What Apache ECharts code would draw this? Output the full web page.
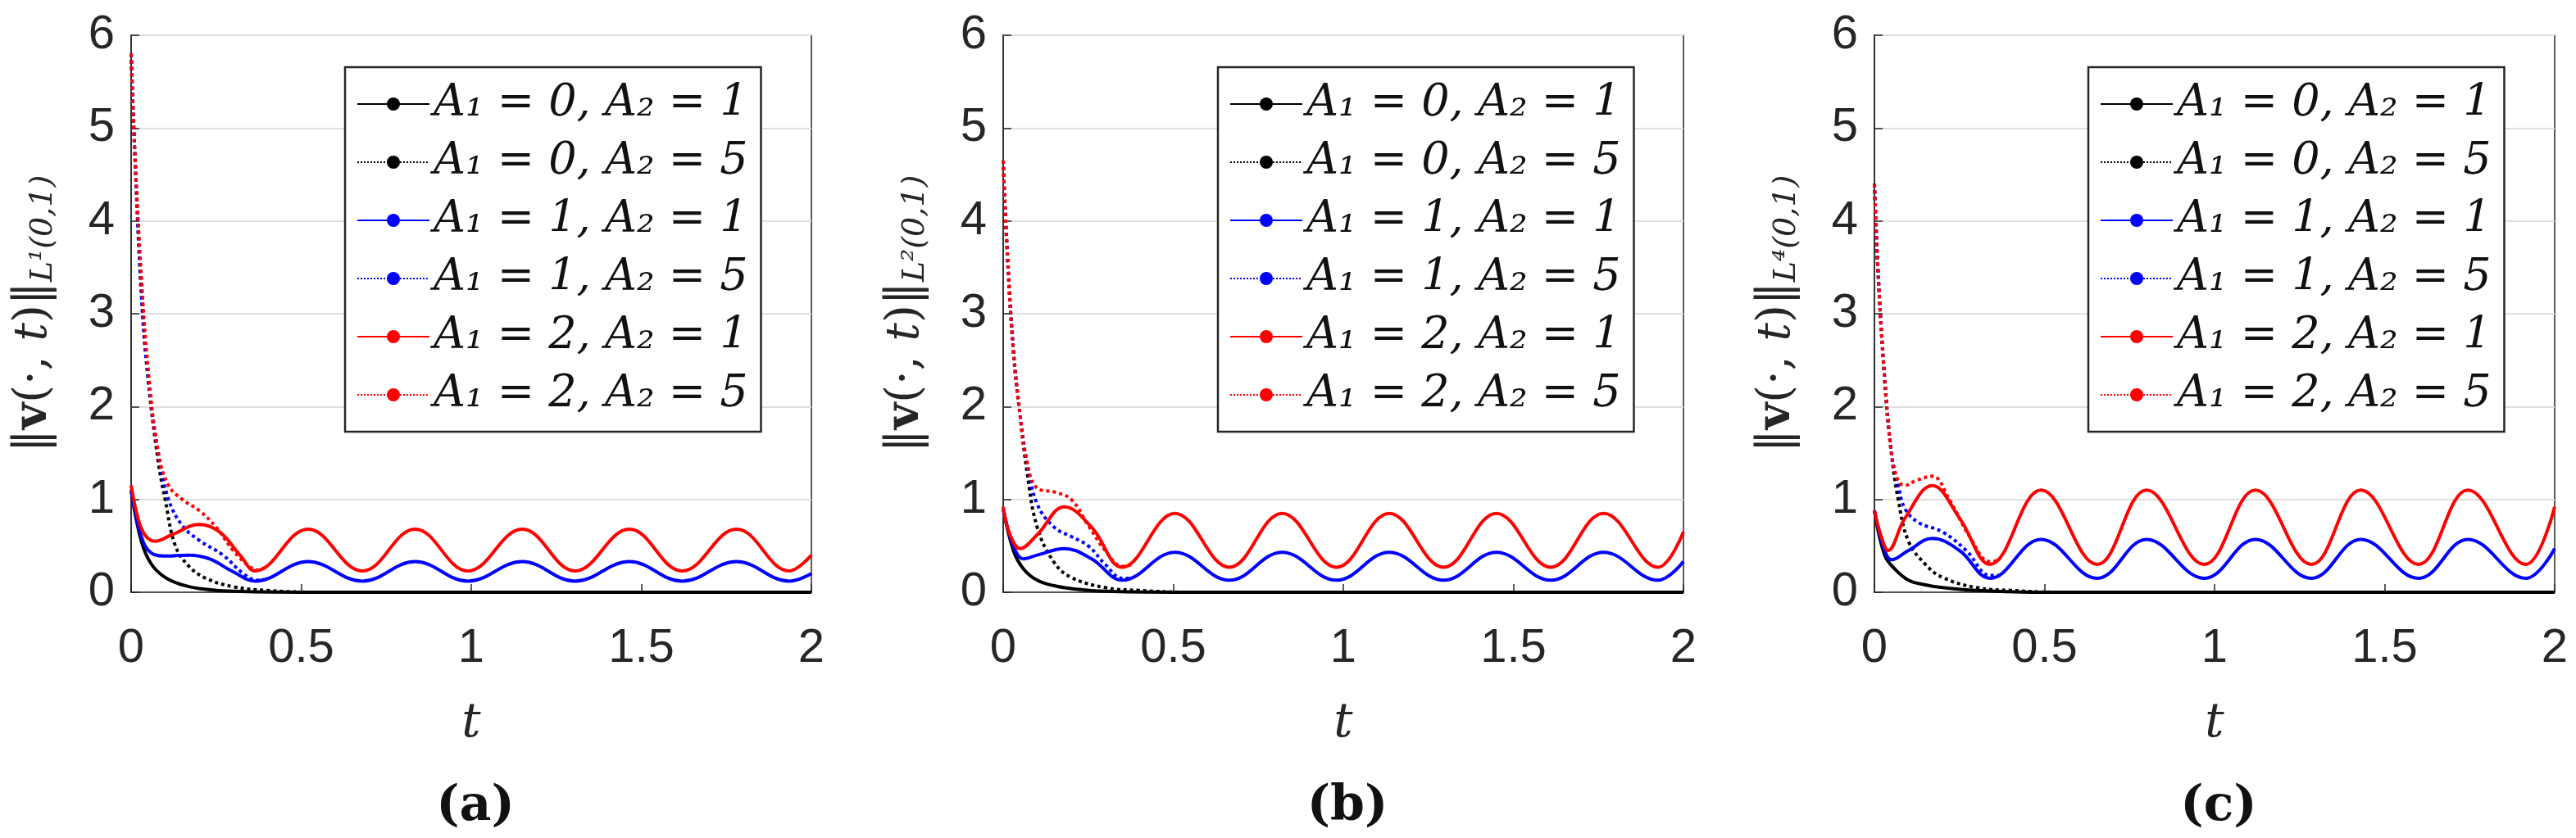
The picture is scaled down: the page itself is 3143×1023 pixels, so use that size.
<!DOCTYPE html>
<html>
<head>
<meta charset="utf-8">
<script src="https://cdn.jsdelivr.net/npm/echarts@6/dist/echarts.min.js"></script>
<style>
  html, body { margin: 0; padding: 0; background: #fff; }
  #main { width: 3143px; height: 1023px; }
</style>
</head>
<body>
<div id="main"></div>
<script>
// legend names
var names = ['A₁ = 0, A₂ = 1', 'A₁ = 0, A₂ = 5', 'A₁ = 1, A₂ = 1', 'A₁ = 1, A₂ = 5', 'A₁ = 2, A₂ = 1', 'A₁ = 2, A₂ = 5'];
var xTicks = [0, 0.5, 1, 1.5, 2];
var yTicks = [0, 1, 2, 3, 4, 5, 6];
var captions = ['(a)', '(b)', '(c)'];
var normSup = ['L¹(0,1)', 'L²(0,1)', 'L⁴(0,1)'];

// panel (a)  L1
var a_k1 = [[0,1.1],[0.03,0.55],[0.06,0.3],[0.1,0.16],[0.15,0.08],[0.2,0.04],[0.3,0.01],[0.5,0],[2,0]];
var a_k5 = [[0,5.8],[0.01,4.8],[0.03,3.3],[0.05,2.3],[0.08,1.4],[0.1,1.0],[0.13,0.5],[0.17,0.28],[0.22,0.15],[0.3,0.06],[0.4,0.02],[0.55,0],[2,0]];
var a_b1 = [[0,1.1],[0.03,0.6],[0.06,0.42],[0.1,0.39],[0.17,0.4],[0.23,0.36],[0.3,0.22],[0.365,0.12],[0.52,0.33],[0.68,0.12],[0.835,0.33],[0.99,0.12],[1.15,0.33],[1.305,0.12],[1.465,0.33],[1.62,0.12],[1.78,0.33],[1.935,0.12],[2,0.2]];
var a_b5 = [[0,5.8],[0.01,4.8],[0.03,3.2],[0.05,2.3],[0.08,1.5],[0.11,1.0],[0.15,0.72],[0.2,0.56],[0.27,0.4],[0.33,0.2],[0.37,0.13],[0.4,0.14]];
var a_r1 = [[0,1.15],[0.02,0.8],[0.04,0.62],[0.07,0.55],[0.12,0.62],[0.2,0.73],[0.26,0.65],[0.32,0.4],[0.365,0.23],[0.52,0.68],[0.68,0.23],[0.835,0.68],[0.99,0.23],[1.15,0.68],[1.305,0.23],[1.465,0.68],[1.62,0.23],[1.78,0.68],[1.935,0.23],[2,0.4]];
var a_r5 = [[0,5.8],[0.01,4.8],[0.03,3.4],[0.05,2.4],[0.08,1.5],[0.11,1.15],[0.15,1.0],[0.2,0.88],[0.25,0.7],[0.3,0.45],[0.35,0.27],[0.37,0.24],[0.4,0.28]];

// panel (b)  L2
var b_k1 = [[0,0.9],[0.03,0.45],[0.06,0.25],[0.1,0.13],[0.15,0.07],[0.2,0.04],[0.3,0.01],[0.5,0],[2,0]];
var b_k5 = [[0,4.65],[0.01,3.8],[0.03,2.6],[0.05,1.9],[0.07,1.3],[0.1,0.7],[0.15,0.32],[0.2,0.16],[0.3,0.05],[0.4,0.02],[0.55,0],[2,0]];
var b_b1 = [[0,0.9],[0.03,0.5],[0.06,0.36],[0.1,0.4],[0.18,0.47],[0.26,0.36],[0.35,0.13],[0.505,0.43],[0.665,0.13],[0.82,0.43],[0.98,0.13],[1.135,0.43],[1.295,0.13],[1.45,0.43],[1.61,0.13],[1.765,0.43],[1.925,0.13],[2,0.33]];
var b_b5 = [[0,4.65],[0.01,3.8],[0.03,2.6],[0.05,1.9],[0.07,1.4],[0.1,0.95],[0.15,0.7],[0.2,0.6],[0.25,0.5],[0.3,0.3],[0.35,0.15],[0.38,0.15]];
var b_r1 = [[0,0.92],[0.02,0.62],[0.05,0.47],[0.1,0.62],[0.18,0.92],[0.26,0.7],[0.35,0.27],[0.505,0.85],[0.665,0.27],[0.82,0.85],[0.98,0.27],[1.135,0.85],[1.295,0.27],[1.45,0.85],[1.61,0.27],[1.765,0.85],[1.925,0.27],[2,0.65]];
var b_r5 = [[0,4.65],[0.01,3.8],[0.03,2.6],[0.05,1.9],[0.07,1.4],[0.1,1.12],[0.15,1.08],[0.2,1.0],[0.25,0.72],[0.3,0.45],[0.35,0.28],[0.38,0.3]];

// panel (c)  L4
var c_k1 = [[0,0.88],[0.03,0.4],[0.06,0.25],[0.1,0.13],[0.15,0.08],[0.2,0.05],[0.3,0.02],[0.5,0],[2,0]];
var c_k5 = [[0,4.4],[0.01,3.5],[0.03,2.3],[0.05,1.5],[0.07,1.0],[0.1,0.55],[0.15,0.3],[0.2,0.16],[0.3,0.05],[0.4,0.02],[0.55,0],[2,0]];
var c_b1 = [[0,0.88],[0.03,0.45],[0.05,0.35],[0.1,0.45],[0.17,0.58],[0.25,0.45],[0.34,0.15],[0.49,0.57],[0.655,0.15],[0.8,0.57],[0.97,0.15],[1.12,0.57],[1.285,0.15],[1.43,0.57],[1.6,0.15],[1.745,0.57],[1.915,0.15],[2,0.47]];
var c_b5 = [[0,4.4],[0.01,3.5],[0.03,2.3],[0.05,1.5],[0.07,1.15],[0.09,0.9],[0.13,0.75],[0.2,0.65],[0.27,0.45],[0.34,0.18],[0.37,0.18]];
var c_r1 = [[0,0.88],[0.02,0.6],[0.04,0.45],[0.09,0.8],[0.17,1.15],[0.25,0.8],[0.34,0.3],[0.49,1.1],[0.655,0.3],[0.8,1.1],[0.97,0.3],[1.12,1.1],[1.285,0.3],[1.43,1.1],[1.6,0.3],[1.745,1.1],[1.915,0.3],[2,0.92]];
var c_r5 = [[0,4.4],[0.01,3.5],[0.03,2.3],[0.05,1.5],[0.07,1.2],[0.09,1.15],[0.12,1.2],[0.17,1.25],[0.22,1.0],[0.28,0.6],[0.34,0.33],[0.37,0.35]];

var panels = [
    [a_k1, a_k5, a_b1, a_b5, a_r1, a_r5],
    [b_k1, b_k5, b_b1, b_b5, b_r1, b_r5],
    [c_k1, c_k5, c_b1, c_b5, c_r1, c_r5]
];
var colors = ['#000000', '#000000', '#0000ff', '#0000ff', '#ff0000', '#ff0000'];
var types = ['solid', 'dotted', 'solid', 'dotted', 'solid', 'dotted'];

// grid positions (px)
var gridLeft = [160, 1224, 2287];
var gridWidth = 830;
var legendLeft = [421, 1486, 2548];

var myChart = echarts.init(document.getElementById('main'));
var grids = [], xAxes = [], yAxes = [], series = [], legends = [], titles = [];
var axisColor = '#262626';

for (var p = 0; p < 3; p++) {
    grids.push({
        left: gridLeft[p], top: 43, width: gridWidth, height: 680,
        show: true, borderColor: axisColor, borderWidth: 1.5, backgroundColor: '#fff'
    });
    xAxes.push({
        type: 'value', gridIndex: p, min: 0, max: 2, interval: 0.5,
        name: 't', nameLocation: 'middle', nameGap: 132,
        nameTextStyle: { fontFamily: 'DejaVu Serif', fontStyle: 'italic', fontSize: 58, color: axisColor },
        axisLine: { show: true, onZero: false, lineStyle: { color: axisColor, width: 1.5 } },
        axisTick: { show: true, inside: true, length: 10, lineStyle: { color: axisColor, width: 1.5 } },
        axisLabel: { fontFamily: 'Liberation Sans', fontSize: 58, color: axisColor, margin: 40,
            formatter: function (v) { return String(v); } },
        splitLine: { show: false }
    });
    yAxes.push({
        type: 'value', gridIndex: p, min: 0, max: 6, interval: 1,
        name: '{n|‖}{b|v}{n|(·, }{i|t}{n|)‖}{s|' + normSup[p] + '}',
        nameLocation: 'middle', nameGap: 88, nameRotate: 90,
        nameTextStyle: {
            color: axisColor,
            rich: {
                n: { fontFamily: 'DejaVu Serif', fontSize: 56, color: axisColor },
                b: { fontFamily: 'DejaVu Serif', fontWeight: 'bold', fontSize: 56, color: axisColor },
                i: { fontFamily: 'DejaVu Serif', fontStyle: 'italic', fontSize: 56, color: axisColor },
                s: { fontFamily: 'DejaVu Serif', fontStyle: 'italic', fontSize: 38, color: axisColor, padding: [24, 0, 0, 0] }
            }
        },
        axisLine: { show: true, lineStyle: { color: axisColor, width: 1.5 } },
        axisTick: { show: true, inside: true, length: 10, lineStyle: { color: axisColor, width: 1.5 } },
        axisLabel: { fontFamily: 'Liberation Sans', fontSize: 58, color: axisColor, margin: 20 },
        splitLine: { show: true, lineStyle: { color: '#dfdfdf', width: 2 } }
    });
    for (var s = 0; s < 6; s++) {
        series.push({
            name: names[s], type: 'line', xAxisIndex: p, yAxisIndex: p,
            data: panels[p][s], smooth: 0.4, symbol: 'none', clip: true,
            lineStyle: { color: colors[s], width: 4, type: types[s] },
            itemStyle: { color: colors[s] },
            z: s % 2 === 1 ? 3 : 4
        });
    }
    legends.push({
        show: true, data: names.slice(), top: 82, left: legendLeft[p], orient: 'vertical',
        backgroundColor: '#fff', borderColor: axisColor, borderWidth: 2.5,
        padding: [18, 16, 18, 14], itemGap: 17, itemWidth: 88, itemHeight: 20,
        selectedMode: false, z: 10,
        textStyle: { fontFamily: 'DejaVu Serif', fontStyle: 'italic', fontSize: 54, color: '#111' }
    });
    titles.push({
        text: captions[p], left: gridLeft[p] + gridWidth / 2, top: 950, textAlign: 'center',
        textStyle: { fontFamily: 'DejaVu Serif', fontWeight: 'bold', fontSize: 60, color: '#111' }
    });
}

var option = {
    backgroundColor: '#ffffff',
    animation: false,
    title: titles,
    grid: grids,
    xAxis: xAxes,
    yAxis: yAxes,
    legend: legends,
    series: series
};
myChart.setOption(option);
</script>
</body>
</html>
